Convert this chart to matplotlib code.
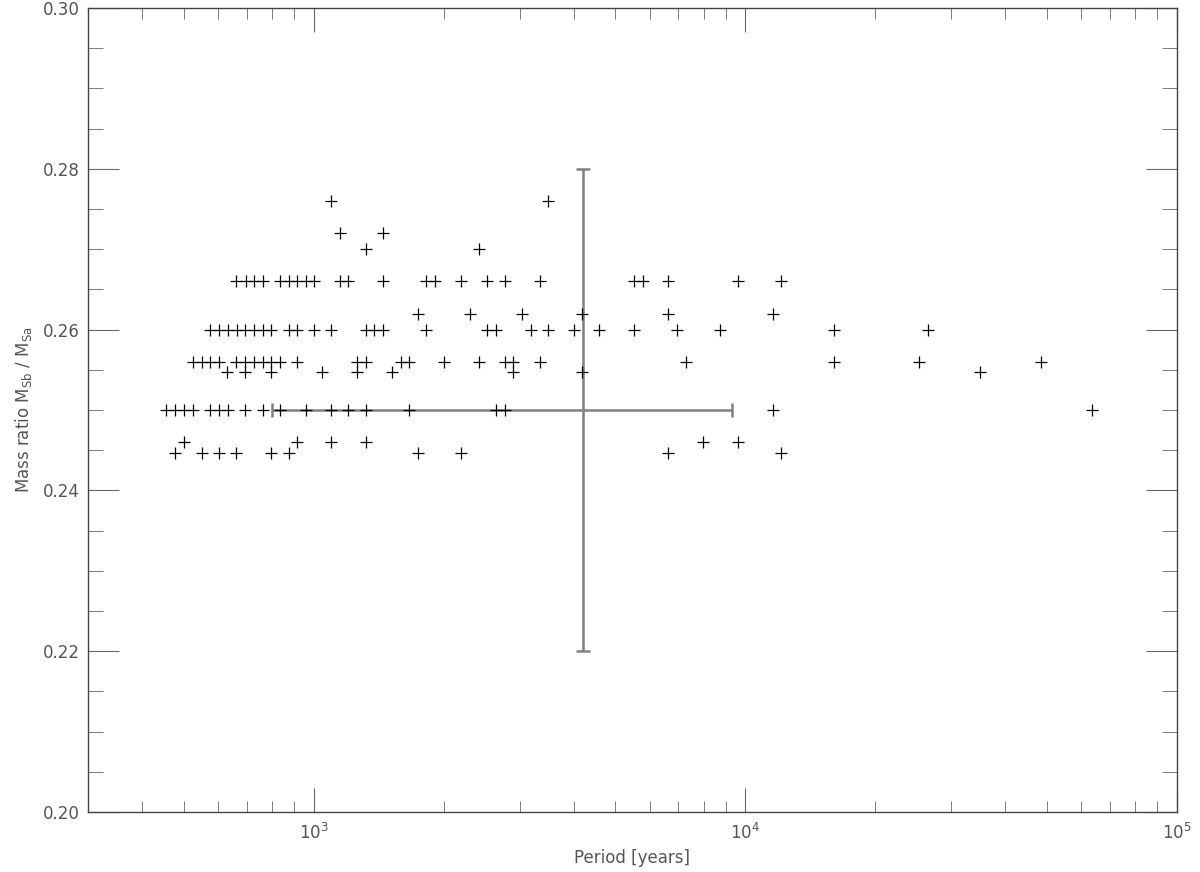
import matplotlib
matplotlib.use("Agg")
import matplotlib.pyplot as plt
import numpy as np

# periods [years] per mass-ratio row
q_rows = [0.276, 0.272, 0.270, 0.266, 0.262, 0.260, 0.256, 0.2547, 0.250, 0.246, 0.2447]
p_rows = [
    [1095, 3487],
    [1149, 1447],
    [1322, 2409],
    [662, 696, 726, 761, 837, 877, 917, 958, 1000, 1149, 1201, 1447, 1823, 1913,
     2198, 2519, 2768, 3336, 5512, 5785, 6634, 9599, 12095],
    [1743, 2297, 3035, 4188, 6634, 11567],
    [575, 604, 633, 664, 692, 726, 761, 798, 877, 917, 1000, 1095, 1322, 1380, 1447,
     1823, 2519, 2639, 3179, 3487, 3999, 4592, 5512, 6948, 8754, 16012, 26523],
    [524, 550, 576, 604, 662, 692, 726, 761, 798, 837, 915, 1259, 1322, 1590, 1662,
     2000, 2409, 2768, 2893, 3336, 7290, 16012, 25284, 48376],
    [630, 692, 798, 1047, 1259, 1518, 2893, 4188, 34994],
    [456, 477, 500, 524, 575, 604, 633, 692, 761, 834, 958, 1095, 1201, 1322, 1662,
     2646, 2768, 11567, 63680],
    [500, 917, 1095, 1322, 7993, 9599],
    [477, 550, 604, 662, 798, 877, 1743, 2198, 6634, 12095],
]

# representative point with error bars
err_p = 4200
err_q = 0.25
err_p_lo, err_p_hi = 800, 9290
err_q_lo, err_q_hi = 0.22, 0.28

P = np.concatenate([np.array(p, float) for p in p_rows])
Q = np.concatenate([np.full(len(p), q) for q, p in zip(q_rows, p_rows)])

fig = plt.figure(figsize=(12, 8.72), dpi=100)
ax = fig.add_axes([88 / 1200, 1 - 812 / 872, (1177 - 88) / 1200, (812 - 8) / 872])

ax.errorbar([err_p], [err_q],
            xerr=[[err_p - err_p_lo], [err_p_hi - err_p]],
            yerr=[[err_q - err_q_lo], [err_q_hi - err_q]],
            fmt='none', ecolor='#808080', elinewidth=1.8, capsize=5, capthick=1.8, zorder=1)
ax.plot(P, Q, '+', color='black', markersize=9, markeredgewidth=0.9, zorder=2)

ax.set_xscale('log')
ax.set_xlim(300, 1e5)
ax.set_ylim(0.20, 0.30)
ax.set_yticks([0.20, 0.22, 0.24, 0.26, 0.28, 0.30])
ax.set_yticklabels(['0.20', '0.22', '0.24', '0.26', '0.28', '0.30'])
ax.set_yticks(np.arange(0.20, 0.3001, 0.005), minor=True)
ax.set_xticks([1e3, 1e4, 1e5])
ax.set_xticklabels(['$10^3$', '$10^4$', '$10^5$'])

txt = '#555555'
for s in ax.spines.values():
    s.set_color('#444444')
    s.set_linewidth(1)
ax.tick_params(which='both', direction='in', top=True, right=True, colors='#666666',
               labelcolor=txt, labelsize=12)
ax.tick_params(axis='x', which='major', length=17, pad=8)
ax.tick_params(axis='x', which='minor', length=8)
ax.tick_params(axis='y', which='major', length=22, pad=6)
ax.tick_params(axis='y', which='minor', length=11)

ax.set_xlabel('Period [years]', color=txt, fontsize=12, labelpad=4)
ax.set_ylabel(r'Mass ratio M$_{\rm Sb}$ / M$_{\rm Sa}$', color=txt, fontsize=12, labelpad=6)

fig.savefig('out.png', dpi=100)
